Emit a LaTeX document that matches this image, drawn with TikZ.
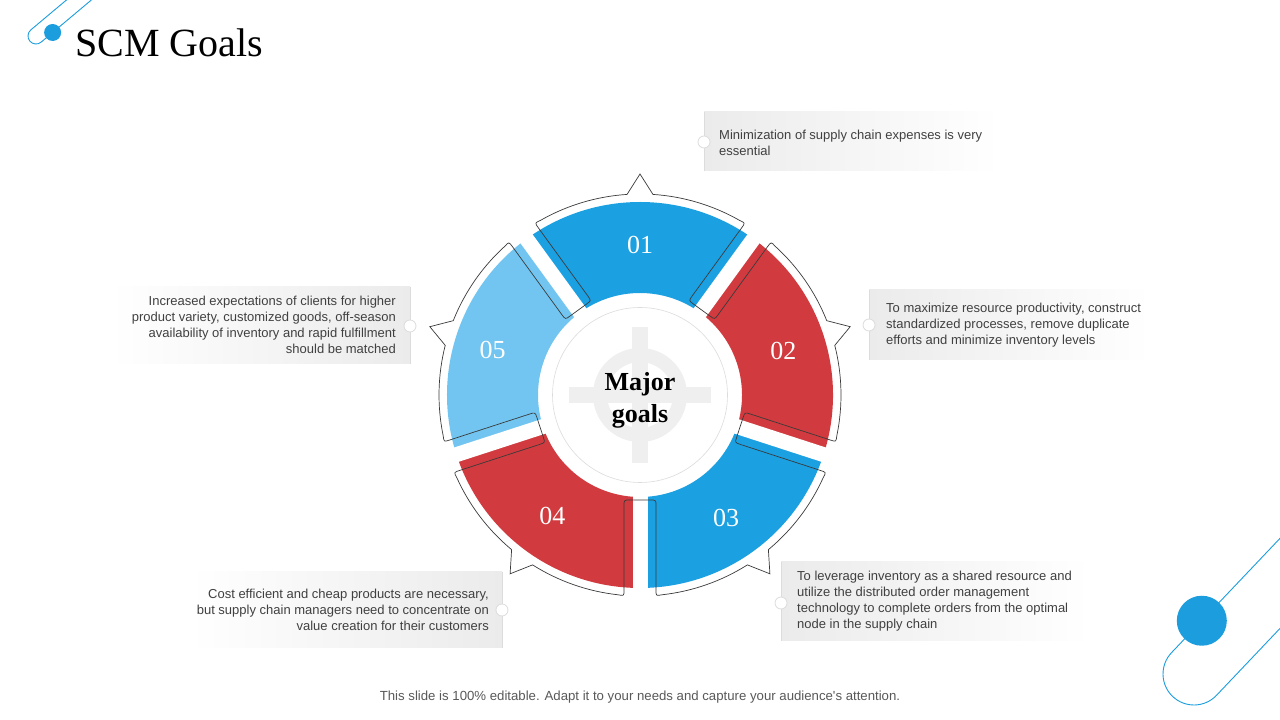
\documentclass[tikz,border=0pt]{standalone}
\usepackage{fontspec}
\newfontfamily\bodyfont{Liberation Sans}
\newfontfamily\headfont{Liberation Serif}
\usetikzlibrary{calc}
\definecolor{segblue}{HTML}{1BA0E2}
\definecolor{segred}{HTML}{D13B3F}
\definecolor{seglight}{HTML}{72C5F0}
\definecolor{outl}{HTML}{3A3A3A}
\definecolor{txt}{HTML}{404040}
\definecolor{footg}{HTML}{595959}
\definecolor{boxg}{HTML}{EBEBEB}
\definecolor{edgeg}{HTML}{DCDCDC}
\definecolor{iconf}{HTML}{EFEFEF}
\definecolor{deco}{HTML}{1B9DDE}
\begin{document}
\begin{tikzpicture}[x=1pt,y=1pt,
  bodytext/.style={font=\bodyfont\fontsize{13}{16}\selectfont, text=txt, inner sep=0pt},
  numlabel/.style={font=\headfont\fontsize{26}{26}\selectfont, text=white, inner sep=0pt},
  dotmark/.style={circle, fill=white, draw=edgeg, line width=0.8pt, minimum size=12pt, inner sep=0pt},
  boxedge/.style={edgeg, line width=0.8pt},
  decoline/.style={deco, line width=0.9pt}]
\useasboundingbox (0,0) rectangle (1280,720);
\clip (0,0) rectangle (1280,720);
\fill[white] (0,0) rectangle (1280,720);

% decorations
\coordinate (e1) at (36,684);
\draw[decoline] ($(e1)+(130:8)+(40:90)$) -- ($(e1)+(130:8)$) arc[start angle=130, end angle=310, radius=8] -- ++(40:90);
\fill[deco] ($(e1)+(-50:8)+(40:15)$) circle[radius=8.5];
\coordinate (e2) at (1194,46);
\draw[decoline] ($(e2)+(136.5:31)+(46.5:200)$) -- ($(e2)+(136.5:31)$) arc[start angle=136.5, end angle=316.5, radius=31] -- ++(46.5:200);
\fill[deco] ($(e2)+(136.5:31)+(46.5:44)$) circle[radius=25];

% title
\node[anchor=west, inner sep=0pt, font=\headfont\fontsize{40}{40}\selectfont] (title) at (75,677) {SCM Goals};

% ring
\def\Ro{201}\def\Ri{105}\def\W{16}\def\cc{6}\def\Rt{221}\def\al{3.7}\def\dd{6.3}
\begin{scope}[shift={(640,325)}]
  \foreach \t/\c in {90/segblue, 18/segred, -54/segblue, -126/segred, 162/seglight} {
    \fill[\c] (\t+36:193) arc[start angle=\t+36, end angle=\t-36, radius=193]
      -- (\t-36:102) arc[start angle=\t-36, end angle=\t+36, radius=102] -- cycle;
  }
  \foreach \g in {126,54,-18,-90,-162} \draw[white, line width=15pt] (\g:90) -- (\g:200);
  \draw[edgeg, line width=0.6pt] (0,0) circle[radius=87.5];
  \fill[iconf] (-71,-8) rectangle (71,8);
  \fill[iconf] (-8,-68) rectangle (8,68);
  \draw[iconf, line width=14pt] (0,0) circle[radius=40];
  \draw[outl, line width=0.7pt] ($(126:\Ro-\cc)+(216:\W)$)
    \foreach \g in {126,54,-18,-90,-162} {
      -- ($(\g:\Ri+\cc)+(\g+90:\W)$)
      .. controls ($(\g:\Ri)+(\g+90:\W)$) .. ($(\g:\Ri)+(\g+90:\W-\cc)$)
      -- ($(\g:\Ri)+(\g-90:\W-\cc)$)
      .. controls ($(\g:\Ri)+(\g-90:\W)$) .. ($(\g:\Ri+\cc)+(\g-90:\W)$)
      -- ($(\g:\Ro-\cc)+(\g-90:\W)$)
      .. controls ($(\g:\Ro)+(\g-90:\W)$) .. (\g-\dd:\Ro)
      arc[start angle=\g-\dd, end angle=\g-36+\al, radius=\Ro]
      -- (\g-36:\Rt)
      -- (\g-36-\al:\Ro)
      arc[start angle=\g-36-\al, end angle=\g-72+\dd, radius=\Ro]
      .. controls ($(\g-72:\Ro)+(\g+18:\W)$) .. ($(\g-72:\Ro-\cc)+(\g+18:\W)$)
    } -- cycle;
  \node[numlabel] (n1) at (90:150) {01};
  \node[numlabel] (n2) at (17:150) {02};
  \node[numlabel] (n3) at (-55:150) {03};
  \node[numlabel] (n4) at (234:149) {04};
  \node[numlabel] (n5) at (163:154) {05};
  \node[font=\headfont\bfseries\fontsize{26}{32}\selectfont, align=center, inner sep=0pt] (core) at (0,-5) {Major\\goals};
\end{scope}

% text boxes
\fill[left color=boxg, right color=white] (704,549) rectangle (1000,608);
\draw[boxedge] (704,549) -- (704,608);
\node[dotmark] (d1) at (704,578) {};
\node[bodytext, anchor=west, align=left] (t1) at (719,577) {Minimization of supply chain expenses is very\\essential};

\fill[left color=boxg, right color=white] (869,360) rectangle (1150,430);
\draw[boxedge] (869,360) -- (869,430);
\node[dotmark] (d2) at (869,395) {};
\node[bodytext, anchor=west, align=left] (t2) at (886,395) {To maximize resource productivity, construct\\standardized processes, remove duplicate\\efforts and minimize inventory levels};

\fill[left color=boxg, right color=white] (781,79) rectangle (1090,158);
\draw[boxedge] (781,79) -- (781,158);
\node[dotmark] (d3) at (781,117) {};
\node[bodytext, anchor=west, align=left] (t3) at (797,119) {To leverage inventory as a shared resource and\\utilize the distributed order management\\technology to complete orders from the optimal\\node in the supply chain};

\fill[left color=white, right color=boxg] (190,72) rectangle (502,148);
\draw[boxedge] (502,72) -- (502,148);
\node[dotmark] (d4) at (502,110) {};
\node[bodytext, anchor=east, align=right] (t4) at (489,110) {Cost efficient and cheap products are necessary,\\but supply chain managers need to concentrate on\\value creation for their customers};

\fill[left color=white, right color=boxg] (110,356) rectangle (410,433);
\draw[boxedge] (410,356) -- (410,433);
\node[dotmark] (d5) at (410,394) {};
\node[bodytext, anchor=east, align=right] (t5) at (396,395) {Increased expectations of clients for higher\\product variety, customized goods, off-season\\availability of inventory and rapid fulfillment\\should be matched};

% footer
\node[font=\bodyfont\fontsize{13.2}{15}\selectfont, text=footg, inner sep=0pt] (foot) at (640,23) {This slide is 100\% editable. Adapt it to your needs and capture your audience's attention.};
\end{tikzpicture}
\end{document}
